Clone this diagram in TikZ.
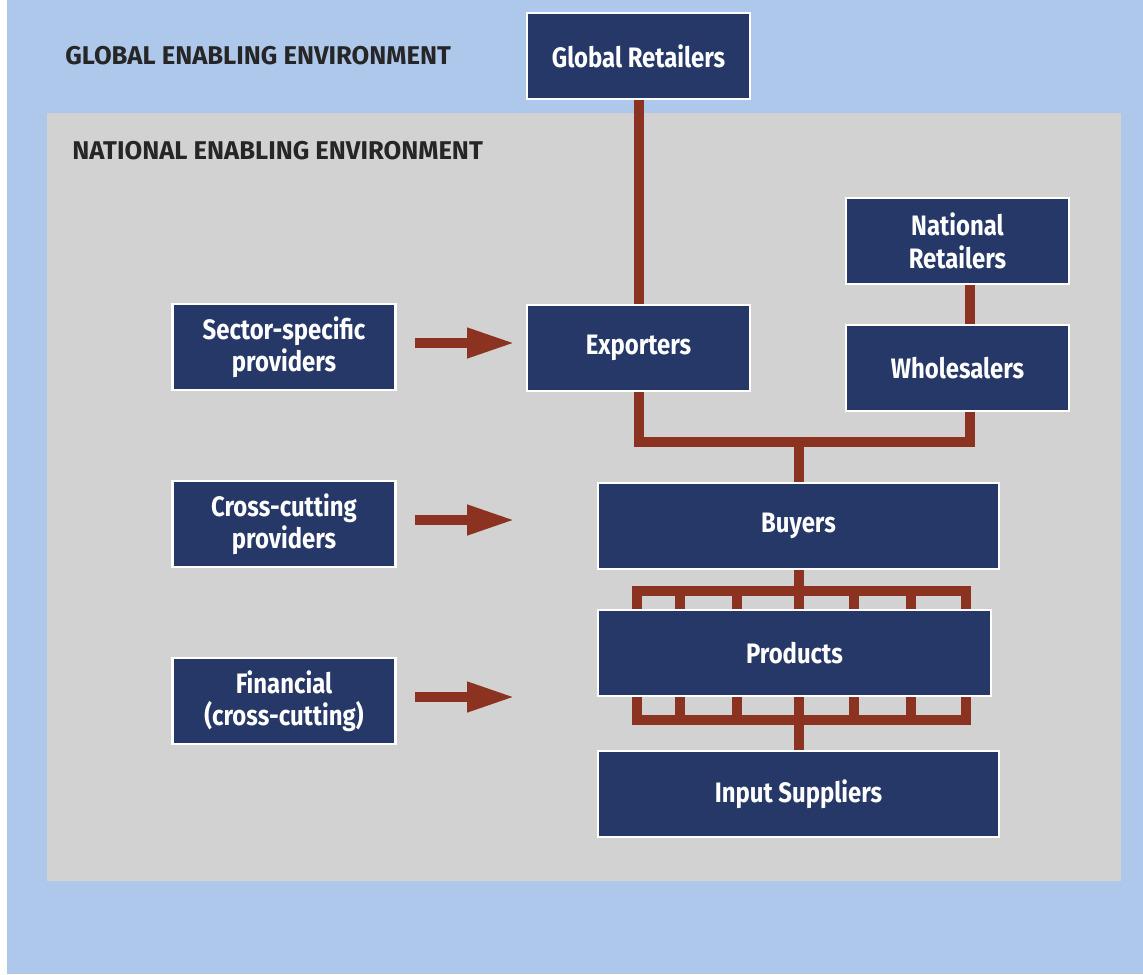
\documentclass[tikz,border=0pt]{standalone}
\usepackage{fontspec}
\setmainfont{Fira Sans}[FakeStretch=0.85]
\newfontfamily\envface{Fira Sans}
\usetikzlibrary{arrows.meta}
\definecolor{envblue}{HTML}{AEC8EC}
\definecolor{envgray}{HTML}{D2D2D2}
\definecolor{navy}{HTML}{263868}
\definecolor{chain}{HTML}{8B3220}
\definecolor{labelgray}{HTML}{262626}

\begin{document}
\begin{tikzpicture}[
      x=0.02cm, y=-0.02cm,
      actor/.style={
        draw=white, line width=0.05cm, fill=navy, text=white,
        font=\bfseries\fontsize{16}{18.5}\selectfont, align=center,
        minimum width=4.46cm, minimum height=1.72cm, inner sep=0pt
      },
      link/.style={draw=chain, line width=0.2cm},
      push/.style={
        draw=chain, line width=0.2cm,
        -{Triangle[length=0.96cm,width=0.56cm]}
      },
      envlabel/.style={
        anchor=west, text=labelgray, inner sep=0pt,
        font=\envface\bfseries\fontsize{14.6}{17}\selectfont
      }
    ]
      \useasboundingbox (0,0) rectangle (1143,974);
      \fill[white] (0,0) rectangle (7,974);
      \fill[envblue] (7,0) rectangle (1143,974);
      \fill[envgray] (47,113) rectangle (1121,881);

      \node[envlabel] (globalenv) at (65,56) {GLOBAL ENABLING ENVIRONMENT};
      \node[envlabel] (nationalenv) at (72,151) {NATIONAL ENABLING ENVIRONMENT};

      \node[actor] (global) at (638.5,56) {Global Retailers};
      \node[actor] (sector) at (284,347) {Sector-specific\\providers};
      \node[actor] (exporters) at (638.5,348) {Exporters};
      \node[actor] (natret) at (957.5,241) {National\\Retailers};
      \node[actor] (wholesale) at (957.5,368) {Wholesalers};
      \node[actor] (cross) at (284,524) {Cross-cutting\\providers};
      \node[actor, minimum width=8.02cm] (buyers) at (798.5,526) {Buyers};
      \node[actor] (fin) at (284,701) {Financial\\(cross-cutting)};
      \node[actor, minimum width=7.86cm] (products) at (794.5,653) {Products};
      \node[actor, minimum width=8.02cm] (inputs) at (798.5,794) {Input Suppliers};

      \coordinate (tipA) at (515,343);
      \coordinate (tipB) at (515,520);
      \coordinate (tipC) at (515,697);
      \coordinate (join) at (799,442);
      \coordinate (combtop) at (799,591);
      \coordinate (combbot) at (799,720);

      \draw[link] (global) -- (exporters);
      \draw[link] ([shift={(12,0)}]natret.south) -- ([shift={(12,0)}]wholesale.north);
      \draw[link] (exporters.south) |- (join) -| ([shift={(12,0)}]wholesale.south);
      \draw[link] (join) -- (join |- buyers.north);

      \draw[link] (buyers.south -| combtop) -- (combtop);
      \draw[link] (637,0 |- products.north) |- (combtop) -| (966,0 |- products.north);
      \draw[link] (637,0 |- products.south) |- (combbot) -| (966,0 |- products.south);
      \draw[link] (combbot) -- (inputs.north -| combbot);
      \foreach \x in {680,737,799,854,911} {
        \draw[link] (\x,0 |- combtop) -- (\x,0 |- products.north);
        \draw[link] (\x,0 |- combbot) -- (\x,0 |- products.south);
      }

      \draw[push, shorten <=0.36cm] (sector.east |- tipA) -- (tipA);
      \draw[push, shorten <=0.36cm] (cross.east |- tipB) -- (tipB);
      \draw[push, shorten <=0.36cm] (fin.east |- tipC) -- (tipC);
    \end{tikzpicture}
\end{document}
